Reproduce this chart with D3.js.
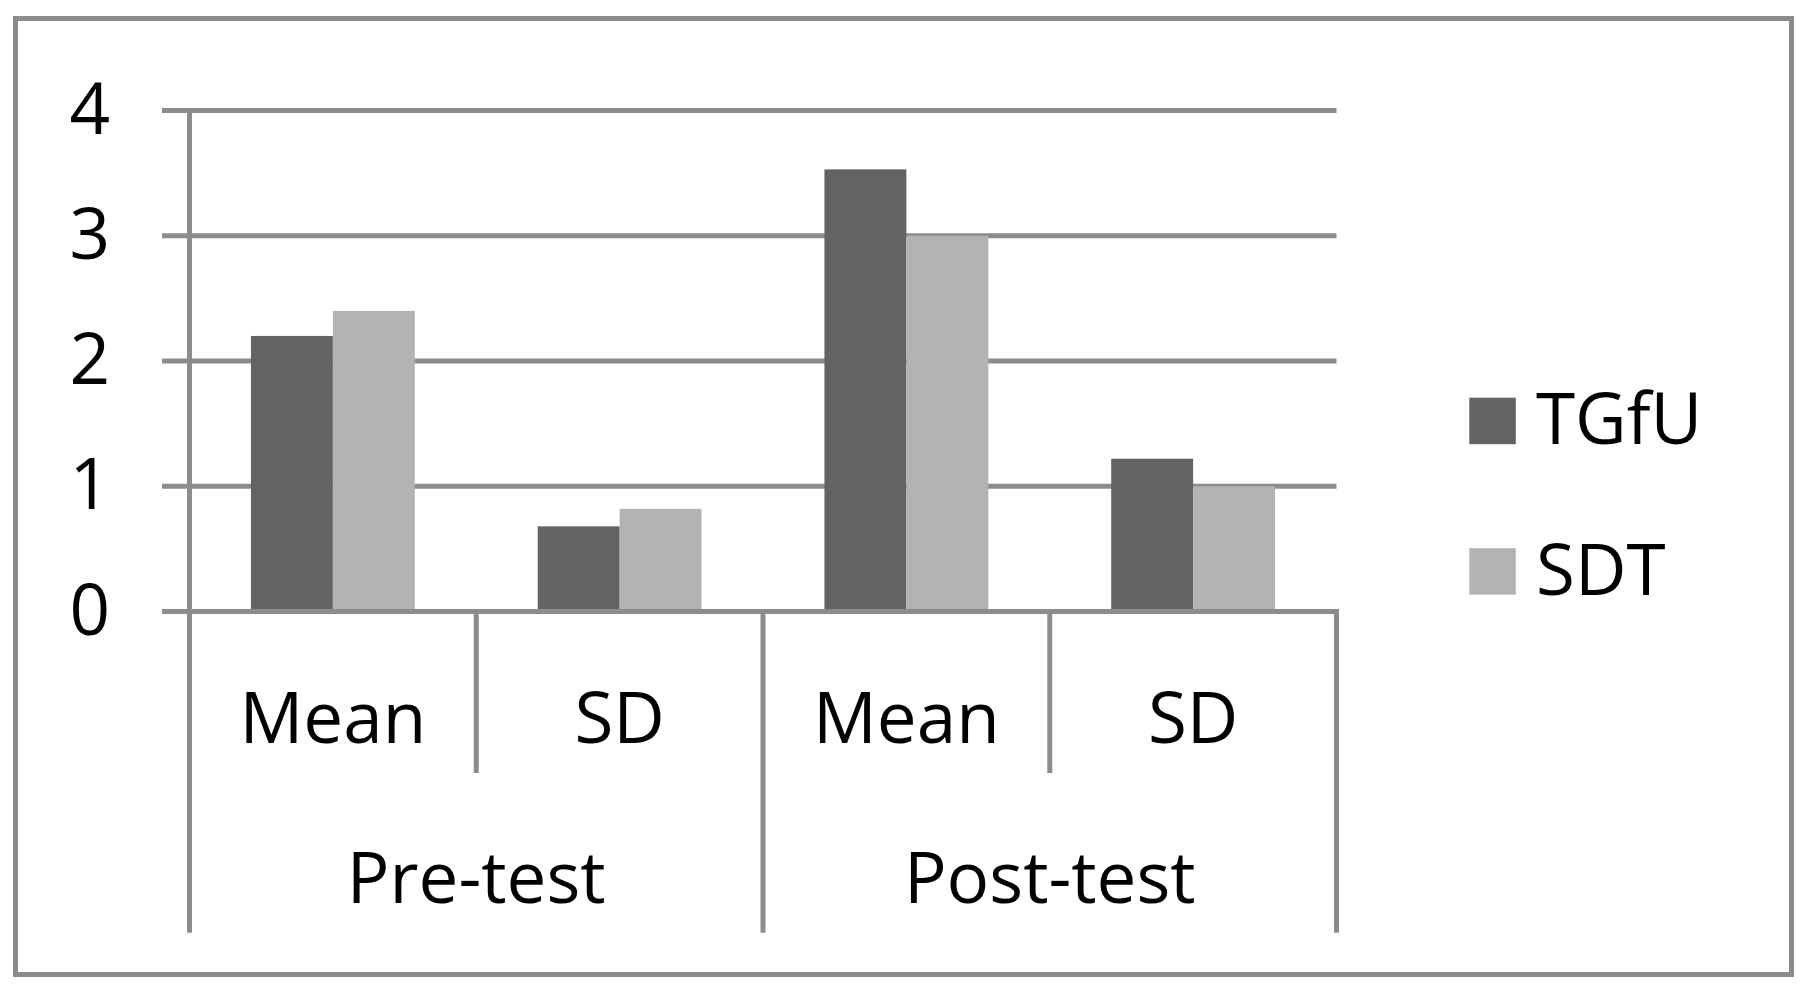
<!DOCTYPE html>
<html>
<head>
<meta charset="utf-8">
<script src="https://cdn.jsdelivr.net/npm/d3@7"></script>
<style>
  html, body { margin: 0; padding: 0; background: #fff; }
  svg { display: block; }
  text { font-family: "Open Sans", "Noto Sans", sans-serif; fill: #000; }
</style>
</head>
<body>
<svg id="chart" width="1810" height="994"></svg>
<script>
// ---- data ----
const groups = ["Pre-test", "Post-test"];
const stats = ["Mean", "SD"];
const series = ["TGfU", "SDT"];
const tgfuValues = [2.2, 0.68, 3.53, 1.22];
const sdtValues = [2.4, 0.82, 3.0, 1.0];
const yTicks = [0, 1, 2, 3, 4];
const seriesColors = ["#636363", "#b3b3b3"];

// ---- layout ----
const W = 1810, H = 994;
const plotLeft = 189.5, plotRight = 1336.5;
const plotTop = 110.5, plotBottom = 611.5;
const gridLeft = 162;
const lineColor = "#8c8c8c";
const lineW = 5;
const fontSize = 71;

const svg = d3.select("#chart");

// outer frame
svg.append("rect")
  .attr("x", 15.5).attr("y", 18.5)
  .attr("width", 1791.5 - 15.5).attr("height", 974.5 - 18.5)
  .attr("fill", "none").attr("stroke", lineColor).attr("stroke-width", lineW);

// categories (leaf level)
const leaves = [];
groups.forEach(g => stats.forEach(s => leaves.push({ group: g, stat: s, key: g + "|" + s })));
const values = leaves.map((d, i) => ({ ...d, vals: [tgfuValues[i], sdtValues[i]] }));

const x = d3.scaleBand().domain(leaves.map(d => d.key)).range([plotLeft, plotRight]).paddingInner(0).paddingOuter(0);
const xg = d3.scaleBand().domain(groups).range([plotLeft, plotRight]).paddingInner(0).paddingOuter(0);
const xs = d3.scaleBand().domain(series).range([0, x.bandwidth()]).paddingInner(0).paddingOuter(0.75);
const y = d3.scaleLinear().domain([0, 4]).range([plotBottom, plotTop]);

// gridlines
svg.append("g").selectAll("line").data(yTicks.filter(t => t > 0)).join("line")
  .attr("x1", gridLeft).attr("x2", plotRight)
  .attr("y1", d => y(d)).attr("y2", d => y(d))
  .attr("stroke", lineColor).attr("stroke-width", lineW);

// bars
const bars = svg.append("g");
values.forEach(d => {
  bars.selectAll(null).data(d.vals).join("rect")
    .attr("x", (v, i) => x(d.key) + xs(series[i]))
    .attr("width", xs.bandwidth())
    .attr("y", v => y(v))
    .attr("height", v => y(0) - y(v))
    .attr("fill", (v, i) => seriesColors[i]);
});

// y axis labels
const yAxis = svg.append("g")
  .attr("transform", `translate(${gridLeft},0)`)
  .call(d3.axisLeft(y).tickValues(yTicks).tickFormat(d3.format("d")).tickSize(0).tickPadding(52));
yAxis.select(".domain").remove();
yAxis.selectAll("text").attr("font-size", fontSize).attr("font-family", "'Open Sans', sans-serif").attr("fill", "#000");

// vertical axis line
svg.append("line")
  .attr("x1", plotLeft).attr("x2", plotLeft)
  .attr("y1", plotTop).attr("y2", plotBottom)
  .attr("stroke", lineColor).attr("stroke-width", lineW);

// zero line
svg.append("line")
  .attr("x1", gridLeft).attr("x2", plotRight + lineW / 2)
  .attr("y1", y(0)).attr("y2", y(0))
  .attr("stroke", lineColor).attr("stroke-width", lineW);

// category separators
const innerBottom = 773, outerBottom = 932.7;
const sepX = leaves.map(d => x(d.key)).concat([plotRight]);
svg.append("g").selectAll("line").data(sepX).join("line")
  .attr("x1", d => d).attr("x2", d => d)
  .attr("y1", y(0)).attr("y2", (d, i) => (i % 2 === 0 ? outerBottom : innerBottom))
  .attr("stroke", lineColor).attr("stroke-width", lineW);

// leaf labels
svg.append("g").selectAll("text").data(leaves).join("text")
  .attr("x", d => x(d.key) + x.bandwidth() / 2)
  .attr("y", 742.7)
  .attr("text-anchor", "middle")
  .attr("font-size", fontSize)
  .text(d => d.stat);

// group labels
svg.append("g").selectAll("text").data(groups).join("text")
  .attr("x", d => xg(d) + xg.bandwidth() / 2)
  .attr("y", 902.7)
  .attr("text-anchor", "middle")
  .attr("font-size", fontSize)
  .text(d => d);

// legend
const legend = svg.append("g").attr("transform", "translate(1469.3,397.7)");
const li = legend.selectAll("g").data(series).join("g")
  .attr("transform", (d, i) => `translate(0,${i * 150.5})`);
li.append("rect").attr("width", 46.5).attr("height", 46.5).attr("fill", (d, i) => seriesColors[i]);
li.append("text").attr("x", 66.7).attr("y", 46.3).attr("font-size", fontSize).text(d => d);
</script>
</body>
</html>
